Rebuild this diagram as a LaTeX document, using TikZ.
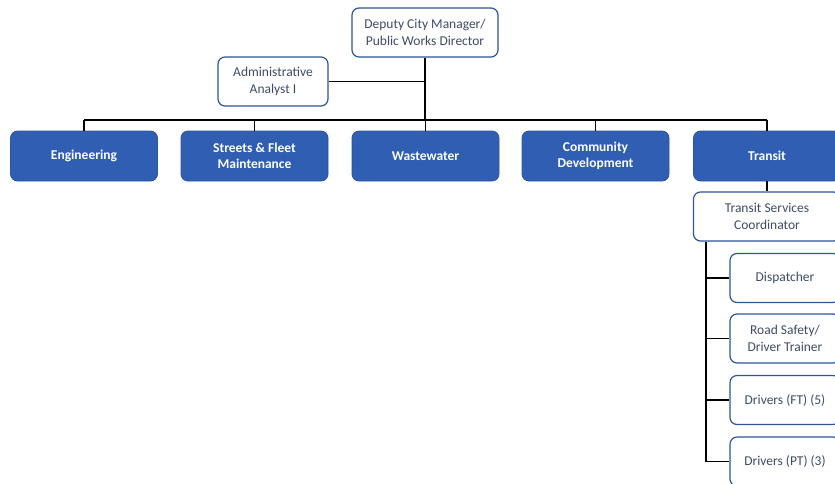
\documentclass[tikz,border=0pt]{standalone}
\usepackage{fontspec}
\setmainfont{Carlito}
\definecolor{bluefill}{RGB}{47,94,178}
\definecolor{blueline}{RGB}{47,85,151}
\definecolor{txtgray}{RGB}{62,76,100}
\begin{document}
\begin{tikzpicture}[x=1pt,y=-1pt,
  bluebox/.style={draw=blueline,fill=bluefill,rounded corners=7pt,minimum width=147pt,minimum height=50pt,text=white,font=\fontsize{13.5}{16.5}\selectfont\bfseries,align=center,line width=0.8pt,inner sep=0pt},
  whitebox/.style={draw=blueline,fill=white,rounded corners=7pt,minimum height=49pt,text=txtgray,font=\fontsize{13.5}{17.5}\selectfont,align=center,line width=1.2pt,inner sep=0pt},
  conn/.style={line width=1.7pt,black}]
\useasboundingbox (0,0) rectangle (835,483);
\node[whitebox,minimum width=146pt] (dep) at (425,32.5) {Deputy City Manager/\\Public Works Director};
\node[whitebox,minimum width=110pt] (adm) at (273,81.5) {Administrative\\Analyst I};
\node[bluebox] (eng) at (84,156) {Engineering};
\node[bluebox] (str) at (254.5,156) {Streets \& Fleet\\Maintenance};
\node[bluebox] (ww) at (425.5,156) {Wastewater};
\node[bluebox] (cd) at (595.5,156) {Community\\Development};
\node[bluebox] (tr) at (767,156) {Transit};
\node[whitebox,minimum width=147pt] (tsc) at (767,216.5) {Transit Services\\Coordinator};
\node[whitebox,minimum width=110pt] (dis) at (785,278) {Dispatcher};
\node[whitebox,minimum width=110pt] (rs) at (785,338.5) {Road Safety/\\Driver Trainer};
\node[whitebox,minimum width=110pt] (dft) at (785,400) {Drivers (FT) (5)};
\node[whitebox,minimum width=110pt] (dpt) at (785,461.5) {Drivers (PT) (3)};
\coordinate (bar) at (425,120);
\coordinate (vtop) at (706,241);
\draw[conn] (dep.south) -- (bar);
\draw[conn] (adm.east) -- (dep.south |- adm.east);
\draw[conn] (eng.north |- bar) -- (tr.north |- bar);
\foreach \n in {eng,str,ww,cd,tr} \draw[conn] (\n.north) -- (\n.north |- bar);
\draw[conn] (tr.south) -- (tsc.north);
\draw[conn] (vtop |- tsc.south) -- (vtop |- dpt.west) -- (dpt.west);
\foreach \n in {dis,rs,dft} \draw[conn] (vtop |- \n.west) -- (\n.west);
\end{tikzpicture}
\end{document}
